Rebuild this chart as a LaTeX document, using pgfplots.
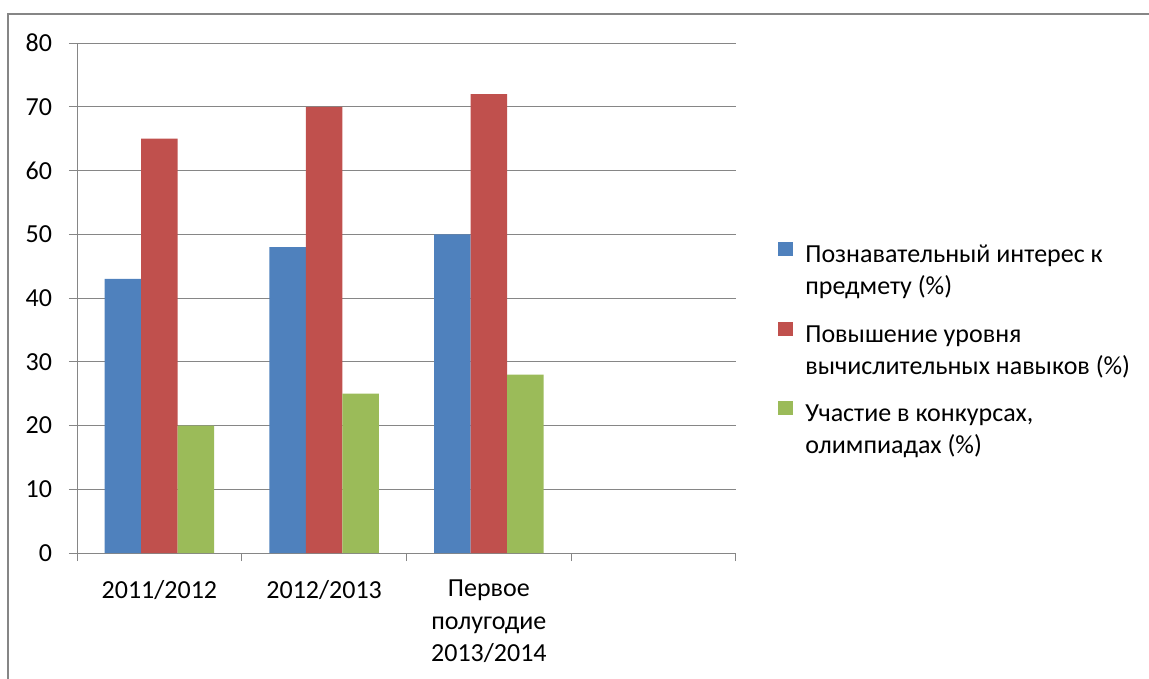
\documentclass[border=0pt]{standalone}
\usepackage{fontspec}
\setmainfont{Carlito}
\usepackage{pgfplots}
\pgfplotsset{compat=1.18}
\definecolor{xblue}{HTML}{4F81BD}
\definecolor{xred}{HTML}{C0504D}
\definecolor{xgreen}{HTML}{9BBB59}
\definecolor{xgray}{HTML}{868686}
\newcommand{\lf}{\fontsize{13bp}{16.25bp}\selectfont}
\newcommand{\lent}[2]{\parbox[t]{170bp}{\lf\baselineskip=16bp\raggedright #1\\#2}}
\begin{document}
\lf
\begin{tikzpicture}
\useasboundingbox (0,0) rectangle (574.5bp,-339.5bp);
\draw[xgray, line width=0.75bp] (4bp,-339.5bp) -- (4bp,-7bp) -- (574.5bp,-7bp);
\begin{axis}[
  at={(38.5bp,-276.5bp)}, anchor=south west,
  scale only axis, width=329.5bp, height=255bp,
  xmin=-0.5, xmax=3.5, ymin=0, ymax=80,
  ytick={0,10,...,80},
  ymajorgrids, grid style={xgray, line width=0.5bp},
  axis x line*=bottom, axis y line*=left,
  axis line style={xgray, line width=0.5bp, -},
  tick style={xgray, line width=0.5bp},
  tick align=outside,
  major tick length=4bp,
  xtick={-0.5,0.5,1.5,2.5,3.5}, xticklabels={},
  extra x ticks={0,1,2},
  extra x tick labels={2011/2012, 2012/2013, {\parbox[t]{80bp}{\lf\baselineskip=16.25bp\centering Первое\\полугодие\\2013/2014}}},
  extra x tick style={major tick length=0pt, grid=none},
  xticklabel style={font=\lf, text=black, yshift=-9bp},
  yticklabel style={font=\lf, text=black, xshift=-4bp},
  /pgf/number format/assume math mode=true,
  ybar=0pt, bar width=18.25bp,
  legend style={draw=none, fill=none, at={(axis description cs:1.0637,0.6127)}, anchor=north west, inner sep=0pt, row sep=25.5bp, column sep=4bp, font=\lf},
  legend cell align=left,
  legend image code/.code={\draw[#1, draw=none] (0bp,0bp) rectangle (7.5bp,7bp);},
]
\addplot[fill=xblue, draw=none] coordinates {(0,43) (1,48) (2,50)};
\addlegendentry{\lent{Познавательный интерес к}{предмету (\%)}}
\addplot[fill=xred, draw=none] coordinates {(0,65) (1,70) (2,72)};
\addlegendentry{\lent{Повышение уровня}{вычислительных навыков (\%)}}
\addplot[fill=xgreen, draw=none] coordinates {(0,20) (1,25) (2,28)};
\addlegendentry{\lent{Участие в конкурсах,}{олимпиадах (\%)}}
\end{axis}
\end{tikzpicture}
\end{document}
